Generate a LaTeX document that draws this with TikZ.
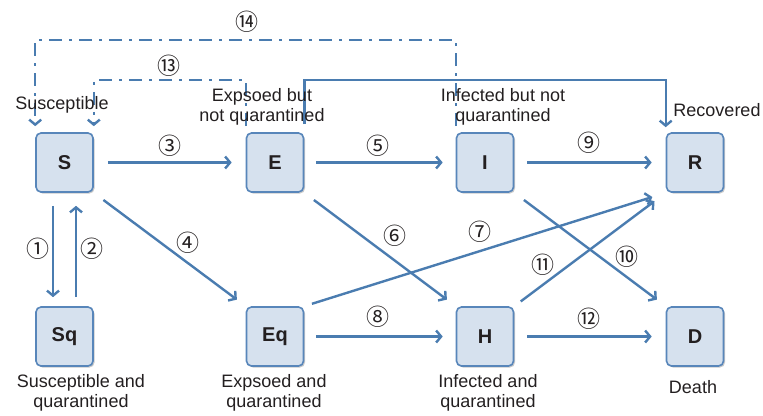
\documentclass[tikz,border=0pt]{standalone}
\usepackage{fontspec}
\setmainfont{Liberation Sans}
\newfontfamily\circfont{Noto Sans CJK SC}
\usetikzlibrary{arrows.meta,shadows,calc}
\definecolor{linec}{RGB}{74,124,176}
\definecolor{boxfill}{RGB}{214,225,238}
\definecolor{boxdraw}{RGB}{88,134,186}
\definecolor{txt}{RGB}{35,31,32}
\begin{document}
\begin{tikzpicture}[x=1pt,y=-1pt,
 state/.style={draw=boxdraw, line width=1.6pt, fill=boxfill, rounded corners=5pt,
   minimum width=57pt, minimum height=59pt, inner sep=0pt,
   font=\fontsize{20}{22}\selectfont\bfseries, text=txt,
   drop shadow={shadow xshift=1.5pt, shadow yshift=-1.5pt, opacity=0.35, fill=black!60}},
 lab/.style={font=\fontsize{18}{20}\selectfont, text=txt, align=center, inner sep=0pt},
 num/.style={font=\circfont\fontsize{23}{23}\selectfont, text=txt, inner sep=0pt},
 flow/.style={draw=linec, line width=2.4pt, -{Straight Barb[length=5pt,width=12pt]}},
 dd/.style={flow, dash pattern=on 13pt off 7pt on 3pt off 7pt}]
\useasboundingbox (0,0) rectangle (763,415);

% state boxes
\node[state] (S)  at (64.5,162.5) {S};
\node[state] (E)  at (275,162.5) {E};
\node[state] (I)  at (485,162.5) {I};
\node[state] (R)  at (695,162.5) {R};
\node[state] (Sq) at (64.5,336.5) {Sq};
\node[state] (Eq) at (275,336.5) {Eq};
\node[state] (H)  at (485,336.5) {H};
\node[state] (D)  at (695,336.5) {D};

% helper levels
\coordinate (t1) at (0,80);
\coordinate (t2) at (0,40);

% horizontal flows
\draw[flow, shorten <=14pt, shorten >=14pt] (S) -- (E);
\draw[flow, shorten <=12pt, shorten >=13pt] (E) -- (I);
\draw[flow, shorten <=13pt, shorten >=14pt] (I) -- (R);
\draw[flow, shorten <=12pt, shorten >=13pt] (Eq) -- (H);
\draw[flow, shorten <=13pt, shorten >=14pt] (H) -- (D);

% vertical flows
\draw[flow, shorten <=13pt, shorten >=9pt] ([xshift=-11.5pt]S.south) -- ([xshift=-11.5pt]Sq.north);
\draw[flow, shorten <=9pt, shorten >=13pt] ([xshift=11.5pt]Sq.north) -- ([xshift=11.5pt]S.south);

% diagonal flows
\draw[flow, shorten <=12pt, shorten >=11pt] (S.south east) -- (Eq.north west);
\draw[flow, shorten <=12pt, shorten >=11pt] (E.south east) -- (H.north west);
\draw[flow, shorten <=12pt, shorten >=11pt] (I.south east) -- (D.north west);
\draw[flow, shorten <=8pt, shorten >=14pt] (Eq.north east) -- (R.south west);
\draw[flow, shorten <=8pt, shorten >=14pt] (H.north east) -- (R.south west);

% top flows
\draw[flow, shorten <=8pt, shorten >=5pt] (E.north east) -- (E.north east |- t1) -| (R.north west);
\draw[dd, shorten <=6pt, shorten >=6pt] (E.north west) -- (E.north west |- t1) -| (S.north east);
\draw[dd, shorten <=6pt, shorten >=6pt] (I.north west) -- (I.north west |- t2) -| (S.north west);

% state labels
\node[lab] (lS)  at (62,105) {Susceptible};
\node[lab] (lE)  at (262,107) {Expsoed but\\not quarantined};
\node[lab] (lI)  at (503,107) {Infected but not\\quarantined};
\node[lab] (lR)  at (717,110) {Recovered};
\node[lab] (lSq) at (81,393) {Susceptible and\\quarantined};
\node[lab] (lEq) at (274,393) {Expsoed and\\quarantined};
\node[lab] (lH)  at (488,393) {Infected and\\quarantined};
\node[lab] (lD)  at (693,387) {Death};

% flow numbers
\node[num] (n1)  at (38,249) {①};
\node[num] (n2)  at (92,249) {②};
\node[num] (n3)  at (170,146) {③};
\node[num] (n4)  at (188,243) {④};
\node[num] (n5)  at (378,146) {⑤};
\node[num] (n6)  at (395,236) {⑥};
\node[num] (n7)  at (480,232) {⑦};
\node[num] (n8)  at (378,317) {⑧};
\node[num] (n9)  at (589,143) {⑨};
\node[num] (n10) at (627,257) {⑩};
\node[num] (n11) at (543,265) {⑪};
\node[num] (n12) at (589,319) {⑫};
\node[num] (n13) at (169,66) {⑬};
\node[num] (n14) at (247,22) {⑭};
\end{tikzpicture}
\end{document}
